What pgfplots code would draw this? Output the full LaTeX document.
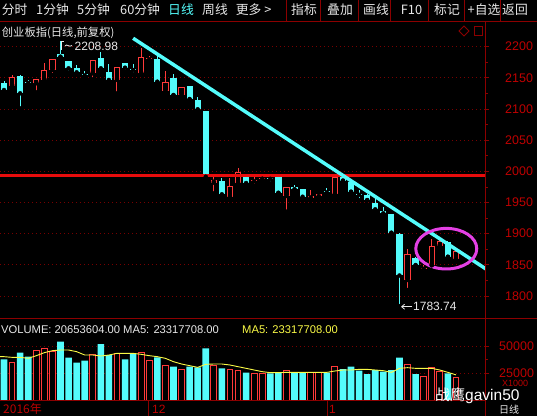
\documentclass[border=0pt]{standalone}
\usepackage{pgfplots}
\pgfplotsset{compat=1.18}
\usepackage{pgfplotstable}
\usetikzlibrary{arrows.meta}
\usepackage{fontspec}
\setmainfont{Liberation Sans}
\newfontfamily\cjk{Noto Sans CJK SC}
\definecolor{cy}{RGB}{84,252,252}
\definecolor{rd}{RGB}{255,58,58}
\definecolor{hl}{RGB}{232,12,12}
\definecolor{dr}{RGB}{140,0,0}
\definecolor{gridc}{RGB}{120,0,0}
\definecolor{lbl}{RGB}{190,0,0}
\definecolor{mg}{RGB}{228,64,228}
\definecolor{yl}{RGB}{250,250,70}
\definecolor{tx}{RGB}{232,232,232}

% rising (red) candles: index, open, high, low, close
\pgfplotstableread{
i O H L C
1 2137.4 2154.6 2136.9 2151.9
4 2141.3 2148.5 2126.8 2147.7
5 2146.6 2173.9 2145.8 2162.6
6 2162.6 2180.3 2154.6 2179.8
11 2157.3 2179.0 2147.7 2178.7
14 2146.6 2167.4 2125.2 2167.0
17 2157.3 2198.4 2157.0 2183.0
18 2179.5 2185.6 2175.9 2181.1
20 2128.9 2161.0 2125.2 2143.8
22 2122.5 2135.3 2117.2 2134.9
26 1981.8 1994.1 1964.8 1986.1
28 1958.4 1989.8 1958.0 1976.5
29 1980.8 2004.9 1975.4 1998.5
31 1983.8 1991.4 1976.5 1985.4
32 1988.2 1995.8 1986.1 1989.8
35 1960.5 1974.9 1935.3 1974.4
38 1957.7 1970.1 1957.7 1960.5
39 1960.5 1963.7 1955.2 1963.2
41 1963.2 1994.1 1962.8 1991.4
50 1825.7 1874.9 1809.6 1867.4
52 1843.6 1849.7 1837.4 1845.2
53 1849.7 1891.5 1849.2 1880.7
54 1880.7 1894.2 1880.3 1888.7
56 1858.9 1876.5 1858.5 1872.7
}\upc

% falling (cyan) candles: index, open, high, low, close
\pgfplotstableread{
i O H L C
0 2141.3 2145.4 2127.8 2130.5
2 2153.5 2154.6 2101.2 2125.2
3 2143.4 2146.6 2138.6 2141.8
7 2187.8 2208.98 2183.5 2184.0
8 2177.1 2177.5 2158.3 2165.3
9 2166.3 2170.6 2155.7 2158.9
10 2155.4 2161.0 2148.2 2153.8
12 2181.4 2192.0 2162.6 2165.3
13 2159.9 2171.8 2143.8 2146.6
15 2173.4 2173.9 2159.9 2166.3
16 2164.2 2171.8 2155.7 2162.6
19 2180.3 2185.6 2143.4 2143.8
21 2149.3 2155.7 2122.0 2122.5
23 2136.9 2137.7 2115.3 2116.1
24 2114.5 2119.8 2098.4 2099.6
25 2096.8 2097.6 1986.1 1991.4
27 1984.5 1988.9 1959.3 1963.2
30 1994.1 1995.3 1978.9 1981.3
33 1989.6 1989.6 1980.8 1988.0
34 1990.5 1990.9 1965.3 1965.7
36 1974.4 1978.1 1970.9 1971.2
37 1971.2 1971.7 1955.2 1959.3
40 1968.0 1973.8 1960.5 1966.4
42 1990.9 1992.5 1984.5 1985.3
43 1983.4 1984.5 1966.9 1967.4
44 1964.0 1970.1 1954.0 1962.4
45 1962.1 1963.7 1953.5 1954.0
46 1948.7 1956.8 1935.3 1939.1
47 1936.4 1943.3 1930.0 1932.7
48 1931.1 1931.6 1901.1 1901.6
49 1899.5 1900.3 1783.74 1832.9
51 1861.4 1862.6 1849.0 1849.7
55 1886.2 1888.7 1862.6 1863.1
}\dnc

% volume (x1000)
\pgfplotstableread{
i V
1 34940
4 46340
5 47910
6 44760
11 42350
14 43280
17 43840
18 36420
20 32440
22 28730
26 32440
28 28730
29 27800
31 24750
32 24750
35 27800
38 25670
39 25300
41 31510
50 33090
52 22240
53 29940
54 26230
56 20654
}\volup

\pgfplotstableread{
i V
0 37720
2 43840
3 40130
7 54030
8 39200
9 34570
10 36420
12 51900
13 41710
15 37720
16 42630
19 39570
21 30860
23 30860
24 30300
25 47910
27 29380
30 25300
33 24750
34 25300
36 25300
37 25300
40 25300
42 28730
43 30860
44 27160
45 24100
46 27800
47 26230
48 27800
49 39200
51 24100
55 24750
}\voldn

\pgfplotstableread{
i M
-0.5 40160
0 40160
1 39540
2 39540
3 38650
4 41060
5 43870
6 45720
7 46340
8 46340
9 44790
10 41710
11 41710
12 40780
13 41710
14 43250
15 43250
16 43250
17 42320
18 41090
19 40160
20 38620
21 35530
22 33360
23 31820
24 30270
25 33060
26 33360
27 33360
28 32440
29 30890
30 29350
31 27800
32 26260
33 25330
34 25330
35 25640
36 25640
37 25640
38 25640
39 25640
40 25640
41 26880
42 27800
43 27800
44 28420
45 28420
46 27800
47 27180
48 25640
49 29350
50 29970
51 29350
52 29350
53 29350
54 27800
55 25640
56 23318
}\mafive

\pgfplotsset{
  kstyle/.style={
    scale only axis, xmin=-0.496, xmax=59.6,
    axis x line=none, axis y line*=right,
    y axis line style={draw=dr, line width=1pt},
    tick align=outside, major tick length=4pt, minor tick length=2.5pt,
    tick style={dr, line width=0.8pt},
    ymajorgrids, major grid style={gridc, dash pattern=on 1pt off 3pt, line width=0.8pt},
    yticklabel style={font=\fontsize{12.5}{13}\selectfont, text=lbl, anchor=west, inner sep=0pt, xshift=16pt},
    /pgf/number format/assume math mode=true, /pgf/number format/1000 sep={},
    scaled y ticks=false, minor y tick num=1,
  },
  wick/.style={only marks, mark=none, error bars/.cd, y dir=plus, y explicit, error mark=none,
    error bar style={line width=1pt, color=#1}},
  body/.style 2 args={only marks, mark=none, error bars/.cd, y dir=plus, y explicit, error mark=none,
    error bar style={line width=#2, color=#1}},
}

\begin{document}
\begin{tikzpicture}[x=1pt,y=1pt]
\useasboundingbox (0,0) rectangle (537,416);
\fill[black] (0,0) rectangle (537,416);

% ---------- price panel ----------
\begin{axis}[kstyle, at={(0pt,98pt)}, anchor=south west, width=485pt, height=296pt,
  ymin=1764.7, ymax=2239.6, ytick={1800,1850,...,2200}]
\addplot[wick=cy] table[x=i, y=L, y error plus expr=\thisrow{H}-\thisrow{L}] {\dnc};
\addplot[wick=rd] table[x=i, y=L, y error plus expr=\thisrow{H}-\thisrow{L}] {\upc};
\addplot[body={cy}{6.2pt}] table[x=i, y=C, y error plus expr=\thisrow{O}-\thisrow{C}] {\dnc};
\addplot[body={rd}{6.2pt}] table[x=i, y=O, y error plus expr=\thisrow{C}-\thisrow{O}] {\upc};
\addplot[restrict expr to domain={\thisrow{C}-\thisrow{O}}{3.6:1000}, body={black}{4.2pt}]
   table[x=i, y expr=\thisrow{O}+1.6, y error plus expr=\thisrow{C}-\thisrow{O}-3.2] {\upc};
% horizontal support line and falling trend line
\addplot[hl, line width=3pt] coordinates {(-0.5,1993) (59.6,1993)};
\addplot[cy, line width=3.5pt] coordinates {(16.0,2213.5) (60,1841.0)};
\draw[mg, line width=3pt] (axis cs:54.8,1875.9) ellipse [x radius=30.5pt, y radius=20.3pt];
\end{axis}

% ---------- volume panel ----------
\begin{axis}[kstyle, at={(0pt,16pt)}, anchor=south west, width=485pt, height=82pt,
  ymin=0, ymax=76000, ytick={25000,50000}, yticklabel style={xshift=-6pt}]
\addplot[ybar, bar width=6.6pt, bar shift=0pt, fill=cy, draw=none] table[x=i, y=V] {\voldn};
\addplot[ybar, bar width=5.8pt, bar shift=0pt, fill=black, draw=rd, line width=1pt] table[x=i, y=V] {\volup};
\addplot[yl, line width=0.9pt] table[x=i, y=M] {\mafive};
\end{axis}

% ---------- frame lines ----------
\draw[dr, line width=1pt] (0,394.8) -- (537,394.8);
\draw[dr, line width=1pt] (0,98) -- (537,98);
\draw[dr, line width=1pt] (0,16) -- (485,16);
\draw[dr, line width=1pt] (485.5,0) -- (485.5,394.8);
\foreach \xx in {286,320,358,390.5,428,464,500} \draw[dr, line width=1pt] (\xx,394.8) -- (\xx,416);
\foreach \xx in {148,327} \draw[dr, line width=1pt] (\xx,0) -- (\xx,16);

% ---------- top menu ----------
\begin{scope}[every node/.style={anchor=west, inner sep=0pt, text=tx, font=\cjk\fontsize{12.8}{13}\selectfont}]
\node at (1.7,406.4) {分时};
\node at (36,406.4) {1分钟};
\node at (77,406.4) {5分钟};
\node at (120,406.4) {60分钟};
\node[text=cy] at (168,406.4) {日线};
\node at (202,406.4) {周线};
\node at (235.6,406.4) {更多 >};
\node at (291,406.4) {指标};
\node at (327,406.4) {叠加};
\node at (363,406.4) {画线};
\node at (400.7,406.4) {F10};
\node at (434,406.4) {标记};
\node at (467.5,406.4) {+自选};
\node at (502,406.4) {返回};
\end{scope}

% ---------- panel titles and annotations ----------
\node[anchor=west, inner sep=0pt, text=tx, font=\cjk\fontsize{11.3}{12}\selectfont] at (1.7,383.5) {创业板指(日线,前复权)};
\draw[dr, line width=0.8pt] (464,390) -- (469,385) -- (464,380) -- (459,385) -- cycle;
\draw[dr, line width=0.8pt] (474,380.5) rectangle (482,389.5);

\draw[tx, line width=0.8pt] (61,366) -- (61,374.3) -- (64,374.3);
\draw[tx, line width=0.8pt] (65,370) .. controls (67,373) and (69,368) .. (72,370.5);
\node[anchor=west, inner sep=0pt, text=tx, font=\fontsize{12}{12}\selectfont] at (74.5,369.3) {2208.98};

\draw[tx, line width=0.8pt, -{Straight Barb[length=3pt,width=5pt]}] (412,109.3) -- (401,109.3);
\node[anchor=west, inner sep=0pt, text=tx, font=\fontsize{12}{12}\selectfont] at (413,109.3) {1783.74};

\node[anchor=west, inner sep=0pt, text=tx, font=\fontsize{11.2}{12}\selectfont] at (1,86) {VOLUME: 20653604.00 MA5: 23317708.00};
\node[anchor=west, inner sep=0pt, text=yl, font=\fontsize{11.2}{12}\selectfont] at (242,86) {MA5: 23317708.00};

% ---------- date axis ----------
\node[anchor=west, inner sep=0pt, text=lbl, font=\cjk\fontsize{12}{12}\selectfont] at (3,7) {2016年};
\node[anchor=west, inner sep=0pt, text=lbl, font=\fontsize{12}{12}\selectfont] at (152,7) {12};
\node[anchor=west, inner sep=0pt, text=lbl, font=\fontsize{12}{12}\selectfont] at (329,7) {1};
\node[anchor=west, inner sep=0pt, text=tx, font=\cjk\fontsize{10}{10}\selectfont] at (499,6.5) {日线};
\node[anchor=west, inner sep=0pt, text=lbl, font=\fontsize{9}{9}\selectfont] at (502,33) {X1000};

% ---------- watermark ----------
\node[anchor=west, inner sep=0pt, text=white] at (435,20.5) {{\cjk\fontsize{15}{16}\selectfont 战鹰}{\fontsize{15.5}{16}\selectfont gavin50}};
\end{tikzpicture}
\end{document}
